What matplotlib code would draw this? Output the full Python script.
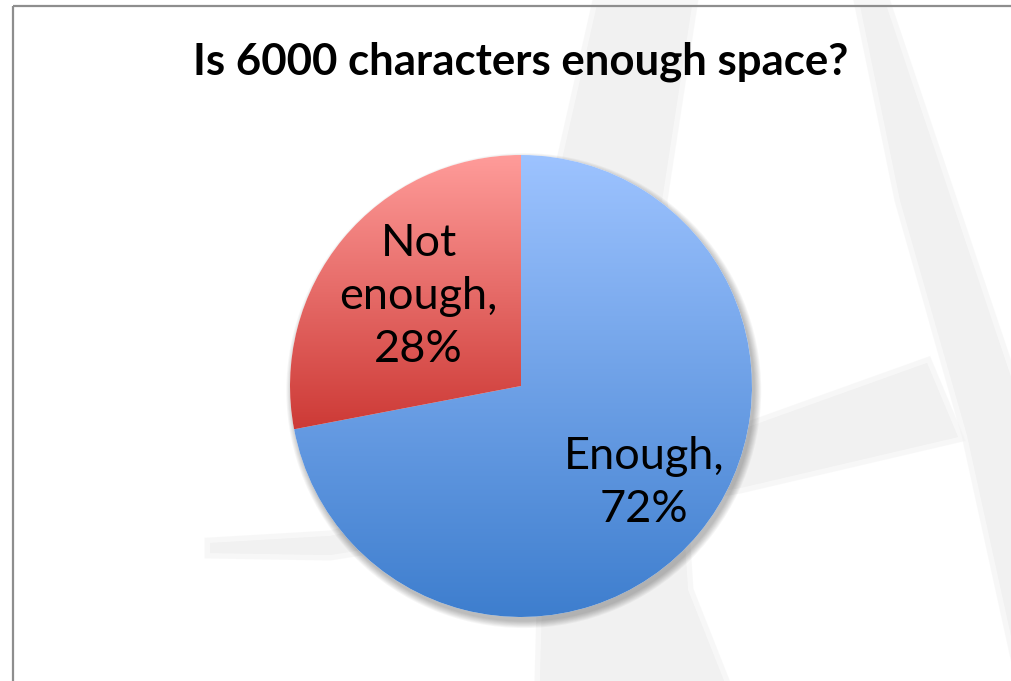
import numpy as np
import matplotlib
matplotlib.use("Agg")
import matplotlib.pyplot as plt
from matplotlib.patches import Polygon, Circle
from matplotlib.colors import LinearSegmentedColormap

# data
categories = ["Enough", "Not\nenough"]
values = [72, 28]
title = "Is 6000 characters enough space?"

# gradient colours (top -> bottom) per slice
grad_colors = [("#9DC3FF", "#3E7ECE"), ("#FF9C9A", "#CD3A36")]
label_radius = [0.69, 0.575]

W, H = 1012, 681
fig = plt.figure(figsize=(W / 100, H / 100), dpi=100)
fig.patch.set_facecolor("white")

# background layer in pixel coords (watermark + frame)
bg = fig.add_axes([0, 0, 1, 1])
bg.set_xlim(0, W)
bg.set_ylim(H, 0)
bg.axis("off")
wm = "#F1F1F1"
shapes = [
    [(597, 5), (692, 5), (662, 200), (688, 590), (724, 681), (540, 681), (553, 200)],
    [(860, 5), (886, 5), (1012, 380), (1012, 640), (967, 435), (900, 200)],
    [(210, 543), (330, 536), (500, 500), (740, 430), (927, 363), (958, 437),
     (740, 488), (500, 528), (330, 555), (210, 553)],
]
for pts in shapes:
    bg.add_patch(Polygon(pts, closed=True, facecolor=wm, edgecolor=wm, lw=8, alpha=0.5))
    bg.add_patch(Polygon(pts, closed=True, facecolor=wm, edgecolor="none"))
bg.plot([13, 13], [6, H], color="#8E8E8E", lw=1.6, solid_capstyle="butt")
bg.plot([13, W], [6, 6], color="#8E8E8E", lw=1.6, solid_capstyle="butt")

fig.text(521 / W, 1 - 75 / H, title, ha="center", va="baseline",
         fontsize=31.5, fontweight="bold", family="Lato", color="black")

# pie axes: centre (521, 386) px, radius 231 px
cx, cy, r = 521, 386, 231
ax = fig.add_axes([(cx - r) / W, (H - cy - r) / H, 2 * r / W, 2 * r / H])
ax.patch.set_alpha(0)

# soft shadow
for k in range(8):
    ax.add_patch(Circle((0.012, -0.02), 1.0 + 0.004 * k, color="black",
                        alpha=0.035, lw=0, zorder=0, clip_on=False))

wedges, _ = ax.pie(values, startangle=90, counterclock=False, radius=1,
                   wedgeprops=dict(linewidth=0))

for w, (c_top, c_bot) in zip(wedges, grad_colors):
    w.set_facecolor("white")
    w.set_zorder(1)
    w.set_clip_on(False)
    ext = w.get_path().get_extents()
    cmap = LinearSegmentedColormap.from_list("g", [c_bot, c_top])
    grad = np.linspace(0, 1, 256).reshape(-1, 1)
    im = ax.imshow(grad, cmap=cmap, origin="lower", aspect="auto",
                   extent=(ext.x0, ext.x1, ext.y0, ext.y1), zorder=2)
    im.set_clip_path(w)

ax.set_xlim(-1, 1)
ax.set_ylim(-1, 1)
ax.axis("off")

total = sum(values)
for w, name, v, lr in zip(wedges, categories, values, label_radius):
    mid = np.deg2rad((w.theta1 + w.theta2) / 2)
    ax.text(lr * np.cos(mid), lr * np.sin(mid) + 0.02,
            f"{name},\n{round(100 * v / total)}%",
            ha="center", va="center", fontsize=32.5, family="Lato",
            linespacing=1.36, zorder=5)

fig.savefig("out.png", dpi=100, facecolor="white")
